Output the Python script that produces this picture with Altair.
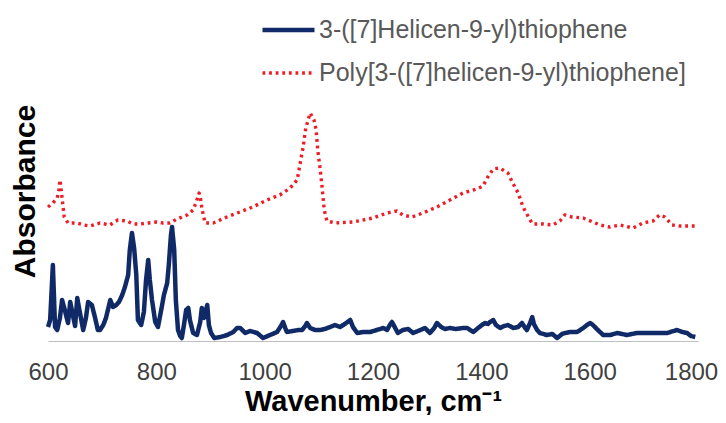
import altair as alt
import pandas as pd

# Monomer: 3-([7]Helicen-9-yl)thiophene
mono_wn = [600, 604, 609, 613, 617, 622, 626, 631, 637, 641, 644, 650, 654, 659, 665, 670, 674, 681, 687, 692,
           696, 702, 707, 715, 720, 726, 731, 737, 742, 748, 751, 755, 759, 763, 766, 772, 777, 781, 785, 788,
           792, 798, 803, 809, 814, 820, 823, 827, 829, 833, 836, 840, 844, 847, 851, 855, 859, 862, 868, 875,
           881, 884, 888, 894, 897, 901, 907, 918, 931, 942, 949, 955, 964, 973, 986, 997, 1010, 1023, 1030, 1034,
           1038, 1041, 1052, 1062, 1069, 1075, 1078, 1084, 1093, 1102, 1111, 1121, 1130, 1139, 1148, 1158, 1163, 1171, 1182, 1195,
           1207, 1219, 1226, 1231, 1235, 1241, 1246, 1255, 1265, 1274, 1283, 1296, 1305, 1313, 1318, 1326, 1333, 1342, 1353, 1366,
           1374, 1385, 1394, 1401, 1407, 1412, 1416, 1422, 1427, 1435, 1442, 1449, 1459, 1468, 1475, 1481, 1484, 1490, 1494, 1497,
           1503, 1508, 1521, 1531, 1540, 1549, 1555, 1564, 1577, 1588, 1595, 1601, 1606, 1615, 1625, 1638, 1651, 1660, 1669, 1687,
           1706, 1724, 1743, 1761, 1771, 1780, 1787, 1795]
mono_abs = [0.14, 0.21, 0.76, 0.14, 0.11, 0.23, 0.41, 0.31, 0.18, 0.39, 0.31, 0.15, 0.43, 0.28, 0.11, 0.23, 0.39, 0.36, 0.23, 0.11,
            0.11, 0.16, 0.23, 0.41, 0.34, 0.36, 0.39, 0.46, 0.54, 0.66, 0.91, 1.08, 0.93, 0.66, 0.21, 0.16, 0.29, 0.61, 0.81, 0.61,
            0.41, 0.19, 0.14, 0.31, 0.46, 0.58, 0.76, 1.06, 1.14, 0.91, 0.41, 0.11, 0.05, 0.03, 0.16, 0.31, 0.33, 0.21, 0.08, 0.06,
            0.19, 0.33, 0.23, 0.36, 0.16, 0.08, 0.03, 0.04, 0.06, 0.09, 0.13, 0.13, 0.08, 0.10, 0.08, 0.03, 0.06, 0.09, 0.15, 0.19,
            0.13, 0.09, 0.10, 0.11, 0.11, 0.15, 0.18, 0.13, 0.11, 0.11, 0.12, 0.14, 0.16, 0.14, 0.17, 0.21, 0.14, 0.08, 0.09, 0.09,
            0.11, 0.13, 0.11, 0.16, 0.19, 0.13, 0.08, 0.11, 0.12, 0.08, 0.10, 0.13, 0.08, 0.13, 0.18, 0.14, 0.12, 0.13, 0.12, 0.13,
            0.13, 0.09, 0.13, 0.16, 0.18, 0.17, 0.19, 0.21, 0.16, 0.13, 0.15, 0.16, 0.13, 0.14, 0.18, 0.13, 0.11, 0.18, 0.24, 0.17,
            0.11, 0.08, 0.06, 0.07, 0.03, 0.07, 0.08, 0.09, 0.09, 0.13, 0.16, 0.18, 0.16, 0.11, 0.06, 0.06, 0.08, 0.07, 0.06, 0.08,
            0.08, 0.08, 0.08, 0.11, 0.09, 0.08, 0.05, 0.04]

# Polymer: Poly[3-([7]helicen-9-yl)thiophene]
poly_wn = [600, 609, 617, 620, 622, 624, 626, 628, 630, 637, 654, 666, 678, 696, 714, 729, 746, 757, 770, 785,
           801, 812, 825, 838, 857, 868, 873, 879, 882, 884, 890, 905, 930, 954, 978, 1004, 1028, 1047, 1060, 1065,
           1071, 1076, 1084, 1091, 1095, 1098, 1102, 1106, 1110, 1115, 1130, 1163, 1200, 1226, 1244, 1255, 1272, 1292, 1318, 1342,
           1366, 1392, 1403, 1412, 1422, 1434, 1449, 1458, 1468, 1477, 1490, 1495, 1514, 1532, 1545, 1554, 1567, 1588, 1606, 1619,
           1637, 1656, 1680, 1698, 1717, 1729, 1739, 1752, 1767, 1791, 1800]
poly_abs = [1.34, 1.38, 1.43, 1.51, 1.61, 1.53, 1.43, 1.33, 1.24, 1.18, 1.18, 1.16, 1.15, 1.18, 1.16, 1.21, 1.20, 1.17, 1.17, 1.18,
            1.19, 1.18, 1.18, 1.22, 1.26, 1.31, 1.38, 1.48, 1.41, 1.33, 1.18, 1.18, 1.24, 1.29, 1.34, 1.41, 1.46, 1.53, 1.61, 1.76,
            1.94, 2.13, 2.28, 2.21, 2.11, 1.91, 1.74, 1.54, 1.31, 1.20, 1.18, 1.19, 1.23, 1.28, 1.30, 1.26, 1.24, 1.28, 1.34, 1.41,
            1.48, 1.52, 1.55, 1.64, 1.72, 1.73, 1.68, 1.58, 1.48, 1.34, 1.21, 1.17, 1.17, 1.16, 1.20, 1.26, 1.24, 1.23, 1.19, 1.16,
            1.14, 1.16, 1.13, 1.18, 1.20, 1.26, 1.24, 1.16, 1.15, 1.15, 1.15]

series_names = ["3-([7]Helicen-9-yl)thiophene", "Poly[3-([7]helicen-9-yl)thiophene]"]
series_colors = ["#102a68", "#ee1c25"]
x_ticks = [600, 800, 1000, 1200, 1400, 1600, 1800]

df = pd.concat([
    pd.DataFrame({"wn": mono_wn, "abs": mono_abs, "series": series_names[0], "ord": 1}),
    pd.DataFrame({"wn": poly_wn, "abs": poly_abs, "series": series_names[1], "ord": 0}),
])

FONT = "Liberation Sans"

legend_opts = dict(title=None, orient="none", legendX=212, legendY=-23,
                   symbolType="stroke", symbolSize=2704, symbolStrokeWidth=3.8,
                   clipHeight=24, rowPadding=18, labelOffset=2, padding=0,
                   labelFont=FONT, labelFontSize=25, labelColor="#595959", labelLimit=500)

chart = alt.Chart(df).mark_line(strokeCap="butt", strokeJoin="round").encode(
    x=alt.X("wn:Q",
            scale=alt.Scale(domain=[600, 1800], nice=False, zero=False),
            axis=alt.Axis(values=x_ticks, format="d", title="Wavenumber, cm⁻¹", grid=False, ticks=False, tickSize=0,
                          labelFlush=False, labelOverlap=False,
                          labelOffset={"condition": {"test": "datum.value >= 1800", "value": -7}, "value": 0},
                          labelFontSize=24, labelColor="#404040", labelFont=FONT, labelPadding=19,
                          domainColor="#bfbfbf", domainWidth=1,
                          titleFont=FONT, titleFontSize=29, titleFontWeight="bold", titleColor="#000000",
                          titlePadding=3)),
    y=alt.Y("abs:Q",
            scale=alt.Scale(domain=[0, 3], nice=False),
            axis=alt.Axis(title="Absorbance", grid=False, ticks=False, labels=False, domain=False,
                          titleFont=FONT, titleFontSize=30, titleFontWeight="bold", titleColor="#000000",
                          titlePadding=8)),
    color=alt.Color("series:N", sort=series_names,
                    scale=alt.Scale(domain=series_names, range=series_colors),
                    legend=alt.Legend(**legend_opts)),
    strokeDash=alt.StrokeDash("series:N", sort=series_names,
                              scale=alt.Scale(domain=series_names, range=[[1, 0], [2.8, 3.8]]),
                              legend=alt.Legend(**legend_opts)),
    strokeWidth=alt.StrokeWidth("series:N", scale=alt.Scale(domain=series_names, range=[4.5, 3.4]), legend=None),
    order=alt.Order("ord:Q"),
).properties(
    width=650, height=300,
    autosize=alt.AutoSizeParams(type="none"),
    padding={"left": 40, "top": 33, "right": 20, "bottom": 74},
).configure_view(stroke=None)

chart.save("out.html", embed_options={"renderer": "svg", "actions": False})
